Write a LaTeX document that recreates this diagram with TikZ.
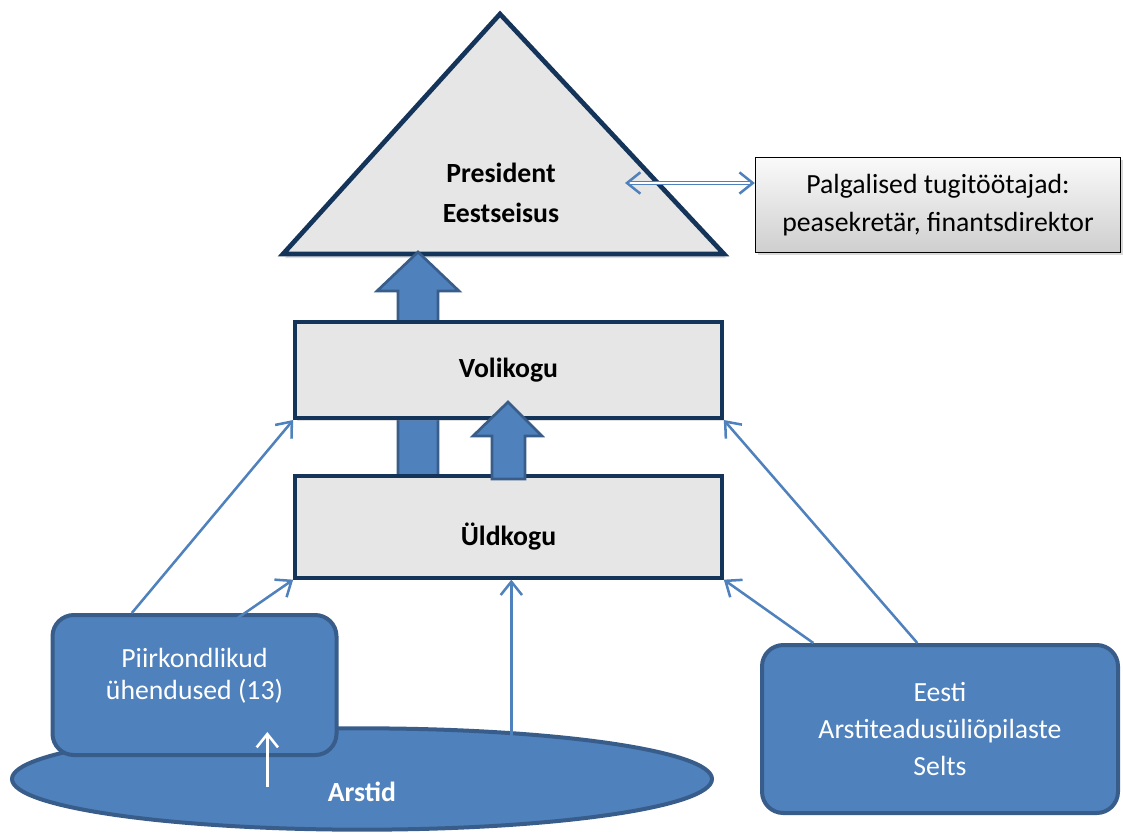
\documentclass[tikz,border=0pt]{standalone}
\usepackage{fontspec}
\setmainfont{Carlito}
\usetikzlibrary{shapes.geometric,arrows.meta,shadows,positioning,calc}
\definecolor{boxblue}{RGB}{79,129,189}
\definecolor{boxedge}{RGB}{56,93,138}
\definecolor{navy}{RGB}{20,52,90}
\definecolor{panel}{RGB}{230,230,230}
\newcommand{\bodyfont}{\fontsize{20.8pt}{28pt}\selectfont}
\tikzset{level box/.style={draw=navy, line width=3pt, fill=panel, minimum width=320pt, font=\bodyfont\bfseries,
    drop shadow={opacity=0.25, shadow xshift=1.5pt, shadow yshift=-2pt}}}
\tikzset{member box/.style={draw=boxedge, line width=3pt, fill=boxblue, rounded corners=16pt, text=white, align=center}}
\tikzset{member text/.style={text=white, align=center}}
\tikzset{link/.style={draw=boxblue, line width=1.9pt, -{Straight Barb[length=10pt, width=16pt, line width=1.9pt]}}}
\tikzset{lift/.style={draw=boxedge, line width=2pt, fill=boxblue, line join=miter}}

\begin{document}
\begin{tikzpicture}[x=0.75pt, y=-0.75pt, font=\bodyfont]
\useasboundingbox (0,0) rectangle (1123,832);
\draw[draw=navy, line width=3.5pt, fill=panel, line join=miter,
  drop shadow={opacity=0.25, shadow xshift=1.5pt, shadow yshift=-3pt}]
  (500,14) coordinate (apex) -- (283,254) coordinate (tl) -- (724,254) coordinate (tr) -- cycle;
\node[font=\fontsize{20.8pt}{30pt}\selectfont\bfseries, align=center] (pres) at (501,193) {President\\Eestseisus};
\coordinate (presright) at (625,183);
\node[draw=black, line width=0.8pt, top color=gray!4, bottom color=gray!38, minimum width=274pt, minimum height=71pt,
  align=center, drop shadow={opacity=0.3, shadow xshift=2pt, shadow yshift=-2pt}] (staff) at (938,205)
  {Palgalised tugitöötajad:\\peasekretär, finantsdirektor};
\draw[draw=boxblue, double=white, line width=0.6pt, double distance=2pt,
  {Straight Barb[length=10pt, width=16pt, line width=1.9pt]}-{Straight Barb[length=10pt, width=16pt, line width=1.9pt]}]
  (presright) -- (presright -| staff.west);

\draw[lift] (398,477) -- (398,291) -- (377,291) -- (418,252) -- (459,291) -- (438,291) -- (438,477) -- cycle;
\node[level box, minimum height=72pt] (voli) at (508.5,370) {Volikogu};
\node[level box, minimum height=76pt, text height=33pt, text depth=5pt] (uld) at (508.5,527) {Üldkogu};
\draw[lift] (492,479) -- (492,436) -- (473,436) -- (508,402) -- (542,436) -- (525,436) -- (525,479) -- cycle;

\node[draw=boxedge, line width=3pt, fill=boxblue, ellipse, minimum width=525pt, minimum height=76pt,
  text=white, font=\bodyfont\bfseries, text height=34pt, text depth=0pt] (arstid) at (362,779) {Arstid};
\node[member box, minimum width=213pt, minimum height=105pt] (piir) at (194.5,685) {};
\node[member text, font=\fontsize{20.8pt}{24pt}\selectfont] (piirtext) at (194.5,676) {Piirkondlikud\\ühendused (13)};
\node[member box, minimum width=267pt, minimum height=126pt] (eesti) at (940,729)
  {Eesti\\Arstiteadusüliõpilaste\\Selts};

\coordinate (piirtop) at ([xshift=61pt]piir.north west);
\coordinate (piirin) at ([xshift=127pt, yshift=-13pt]piir.north west);
\coordinate (arstup) at ([xshift=112pt, yshift=18pt]arstid.center);
\coordinate (arstlow) at ([xshift=-71pt, yshift=-6pt]arstid.center);
\coordinate (eestia) at ([xshift=40pt]eesti.north west);
\coordinate (eestib) at ([xshift=118pt]eesti.north west);

\draw[link] (piirtop) -- (voli.south west);
\draw[link] (piirin) -- (uld.south west);
\draw[link] (arstup) -- (arstup |- uld.south);
\draw[link, draw=white] (arstlow) -- ++(0,-55);
\draw[link] (eestia) -- (uld.south east);
\draw[link] (eestib) -- (voli.south east);
\end{tikzpicture}
\end{document}
